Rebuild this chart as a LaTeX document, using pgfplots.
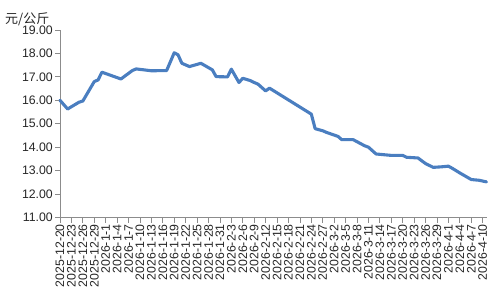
\documentclass[border=0pt]{standalone}
\usepackage{pgfplots}
\pgfplotsset{compat=1.18}
\usepackage{fontspec}
\setmainfont{Liberation Sans}
\newfontfamily\cjk{Noto Sans CJK SC}
\definecolor{lineblue}{HTML}{4A7EC0}
\definecolor{axgray}{HTML}{8C8C8C}
\definecolor{txt}{HTML}{262626}
\begin{document}
\begin{tikzpicture}
\path[use as bounding box] (0,0) rectangle (500pt,300pt);
\begin{axis}[
  scale only axis,
  width=426.5pt, height=187.5pt,
  at={(60pt,82.5pt)}, anchor=south west,
  xmin=0, xmax=112, ymin=11, ymax=19,
  axis lines*=left,
  axis line style={axgray, line width=0.8pt},
  tick style={axgray, line width=0.8pt},
  tick align=outside,
  major tick length=5pt,
  ytick={11,12,...,19},
  xtick={0,3,...,111},
  xticklabels={2025-12-20,2025-12-23,2025-12-26,2025-12-29,2026-1-1,2026-1-4,2026-1-7,2026-1-10,2026-1-13,2026-1-16,2026-1-19,2026-1-22,2026-1-25,2026-1-28,2026-1-31,2026-2-3,2026-2-6,2026-2-9,2026-2-12,2026-2-15,2026-2-18,2026-2-21,2026-2-24,2026-2-27,2026-3-2,2026-3-5,2026-3-8,2026-3-11,2026-3-14,2026-3-17,2026-3-20,2026-3-23,2026-3-26,2026-3-29,2026-4-1,2026-4-4,2026-4-7,2026-4-10},
  x tick label style={rotate=90, anchor=east, font=\fontsize{12.3}{12.3}\selectfont, text=txt, inner sep=1.5pt},
  y tick label style={font=\fontsize{12.3}{12.3}\selectfont, text=txt, inner sep=2pt},
  yticklabel style={/pgf/number format/.cd, fixed, fixed zerofill, precision=2, assume math mode=true},
  /pgf/number format/assume math mode=true,
  clip=false,
]
\addplot[lineblue, line width=3.1pt, line join=round, line cap=round] coordinates {
(0,16.00) (2,15.63) (5,15.92) (6,15.97) (9,16.80) (10,16.87) (11,17.20)
(16,16.91) (19,17.27) (20,17.34) (24,17.26) (28,17.27) (30,18.03) (31,17.94)
(32,17.58) (34,17.44) (37,17.58) (40,17.30) (41,17.01) (44,17.00) (45,17.33)
(47,16.76) (48,16.94) (50,16.84) (51,16.76) (52,16.69) (54,16.40) (55,16.52)
(66,15.41) (67,14.79) (69,14.70) (70,14.63) (73,14.46) (74,14.32) (77,14.32)
(80,14.06) (81,14.00) (83,13.71) (87,13.65) (90,13.65) (91,13.57) (94,13.54)
(96,13.30) (98,13.14) (100,13.16) (102,13.19) (103,13.10) (105,12.90)
(108,12.62) (110,12.59) (112,12.52)
};
\end{axis}
\node[anchor=base west, inner sep=0pt, text=txt, font=\fontsize{13}{13}\selectfont\cjk] at (5pt,276pt) {元/公斤};
\end{tikzpicture}
\end{document}
